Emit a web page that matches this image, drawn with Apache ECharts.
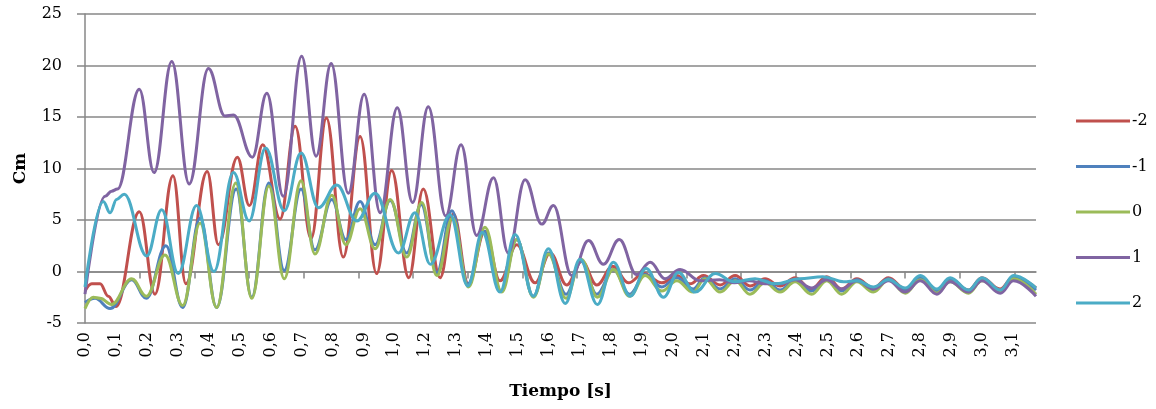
<!DOCTYPE html>
<html>
<head>
<meta charset="utf-8">
<script src="https://cdn.jsdelivr.net/npm/echarts@6/dist/echarts.min.js"></script>
<style>
  html, body { margin: 0; padding: 0; background: #fff; }
  #grafico { width: 1156px; height: 409px; }
</style>
</head>
<body>
<div id="grafico"></div>
<script>
// etiquetas del eje X (la 1,1 no aparece en el original)
var etiquetasX = ['0,0', '0,1', '0,2', '0,3', '0,4', '0,5', '0,6', '0,7', '0,8', '0,9', '1,0',
  '1,2', '1,3', '1,4', '1,5', '1,6', '1,7', '1,8', '1,9', '2,0', '2,1', '2,2', '2,3', '2,4',
  '2,5', '2,6', '2,7', '2,8', '2,9', '3,0', '3,1'];
var pasoEtiqueta = 0.1048; // segundos entre etiquetas
var pasoMarca = 0.18526;   // segundos entre marcas del eje
var tMax = 3.222;

var nombres = ['-2', '-1', '0', '1', '2'];

// [tiempo, Cm]
var serieM2 = [
  [0.000, -1.9], [0.023, -1.2], [0.051, -1.2], [0.079, -2.4], [0.105, -3.4], [0.184, 5.8],
  [0.237, -2.2], [0.298, 9.3], [0.342, -1.2], [0.414, 9.7], [0.452, 2.6], [0.516, 11.1],
  [0.557, 6.4], [0.602, 12.3], [0.661, 5.1], [0.712, 14.1], [0.766, 3.2], [0.818, 14.9],
  [0.875, 1.4], [0.932, 13.1], [0.988, -0.2], [1.039, 9.8], [1.097, -0.6], [1.146, 8.0],
  [1.203, -0.6], [1.248, 5.6], [1.299, -1.2], [1.355, 3.9], [1.406, -0.9], [1.463, 2.6],
  [1.525, -1.1], [1.576, 1.8], [1.632, -1.3], [1.683, 1.0], [1.734, -1.3], [1.788, 0.5],
  [1.841, -1.1], [1.892, -0.2], [1.954, -1.1], [2.005, -0.4], [2.050, -1.2], [2.095, -0.4],
  [2.152, -1.3], [2.203, -0.4], [2.253, -1.4], [2.304, -0.7], [2.355, -1.4], [2.406, -0.6],
  [2.460, -1.7], [2.513, -0.5], [2.564, -1.7], [2.615, -0.7], [2.671, -1.6], [2.722, -0.6],
  [2.779, -1.7], [2.830, -0.5], [2.886, -1.8], [2.931, -0.7], [2.993, -1.8], [3.039, -0.6],
  [3.100, -1.7], [3.146, -0.5], [3.222, -1.6]
];
var serieM1 = [
  [0.000, -3.0], [0.034, -2.6], [0.085, -3.6], [0.158, -0.8], [0.208, -2.6], [0.274, 2.5],
  [0.331, -3.5], [0.390, 5.2], [0.446, -3.5], [0.512, 8.0], [0.565, -2.5], [0.623, 8.6],
  [0.675, 0.1], [0.732, 8.0], [0.779, 2.1], [0.836, 7.0], [0.884, 3.1], [0.932, 6.8],
  [0.983, 2.6], [1.034, 6.9], [1.090, 1.8], [1.139, 6.5], [1.192, -0.1], [1.243, 5.9],
  [1.297, -1.2], [1.353, 3.9], [1.410, -1.9], [1.463, 3.1], [1.519, -2.4], [1.570, 1.8],
  [1.630, -2.2], [1.681, 1.0], [1.734, -2.2], [1.790, 0.2], [1.845, -2.2], [1.898, -0.3],
  [1.954, -1.5], [2.005, -0.6], [2.060, -1.7], [2.100, -0.6], [2.152, -1.7], [2.203, -0.7],
  [2.253, -1.8], [2.304, -0.9], [2.355, -1.8], [2.406, -0.9], [2.462, -1.9], [2.513, -0.7],
  [2.564, -1.9], [2.615, -0.8], [2.671, -1.8], [2.722, -0.7], [2.779, -1.9], [2.830, -0.6],
  [2.886, -1.9], [2.931, -0.8], [2.993, -1.9], [3.039, -0.7], [3.101, -1.9], [3.146, -0.6],
  [3.222, -1.8]
];
var serie0 = [
  [0.000, -3.6], [0.028, -2.5], [0.051, -2.6], [0.090, -3.2], [0.158, -0.7], [0.208, -2.4],
  [0.271, 1.6], [0.331, -3.3], [0.390, 4.7], [0.446, -3.5], [0.511, 8.6], [0.565, -2.6],
  [0.623, 8.3], [0.675, -0.7], [0.732, 8.8], [0.779, 1.7], [0.836, 7.4], [0.884, 2.6],
  [0.932, 6.1], [0.983, 2.2], [1.034, 7.0], [1.090, 1.4], [1.141, 6.7], [1.192, -0.4],
  [1.245, 5.2], [1.299, -1.5], [1.355, 4.3], [1.412, -2.0], [1.463, 3.1], [1.519, -2.5],
  [1.570, 1.7], [1.630, -2.6], [1.681, 1.2], [1.736, -2.5], [1.790, 0.2], [1.845, -2.4],
  [1.898, -0.4], [1.954, -1.9], [2.005, -0.9], [2.060, -2.0], [2.100, -0.7], [2.152, -2.0],
  [2.203, -0.9], [2.253, -2.2], [2.304, -1.1], [2.355, -2.0], [2.406, -1.0], [2.462, -2.2],
  [2.513, -0.9], [2.564, -2.2], [2.615, -1.0], [2.671, -2.0], [2.722, -0.8], [2.779, -2.1],
  [2.830, -0.8], [2.886, -2.1], [2.931, -1.0], [2.993, -2.1], [3.039, -0.9], [3.101, -2.0],
  [3.146, -0.7], [3.222, -2.2]
];
var serieP1 = [
  [0.000, -2.2], [0.068, 7.3], [0.090, 7.8], [0.110, 8.0], [0.184, 17.7], [0.234, 9.6],
  [0.294, 20.4], [0.353, 8.5], [0.418, 19.7], [0.474, 15.1], [0.503, 15.2], [0.567, 11.1],
  [0.616, 17.3], [0.672, 7.3], [0.734, 20.9], [0.783, 11.2], [0.834, 20.2], [0.892, 7.6],
  [0.946, 17.2], [1.000, 5.7], [1.058, 15.9], [1.110, 6.7], [1.163, 16.0], [1.222, 5.4],
  [1.274, 12.3], [1.327, 3.5], [1.384, 9.1], [1.434, 1.8], [1.491, 8.9], [1.548, 4.6],
  [1.587, 6.4], [1.649, -0.4], [1.706, 3.0], [1.756, 0.7], [1.810, 3.1], [1.869, -0.3],
  [1.915, 0.9], [1.965, -0.7], [2.016, 0.2], [2.085, -0.9], [2.150, -0.8], [2.200, -1.1],
  [2.250, -0.9], [2.304, -1.2], [2.355, -1.2], [2.406, -0.8], [2.462, -1.6], [2.513, -0.8],
  [2.564, -1.7], [2.615, -0.9], [2.671, -1.7], [2.722, -0.9], [2.779, -2.0], [2.830, -0.9],
  [2.886, -2.2], [2.931, -1.0], [2.993, -2.0], [3.039, -0.9], [3.101, -2.1], [3.146, -0.9],
  [3.222, -2.4]
];
var serieP2 = [
  [0.000, -1.5], [0.062, 6.8], [0.085, 5.7], [0.107, 7.0], [0.133, 7.5], [0.209, 1.5],
  [0.260, 6.0], [0.316, -0.2], [0.378, 6.4], [0.437, 0.0], [0.503, 9.6], [0.556, 4.9],
  [0.612, 12.0], [0.675, 5.9], [0.732, 11.5], [0.791, 6.2], [0.853, 8.4], [0.921, 4.9],
  [0.983, 7.6], [1.062, 1.8], [1.118, 5.7], [1.170, 0.7], [1.237, 5.5], [1.297, -1.4],
  [1.346, 3.8], [1.406, -2.0], [1.457, 3.6], [1.519, -2.4], [1.570, 2.2], [1.627, -3.1],
  [1.677, 1.2], [1.736, -3.2], [1.790, 0.9], [1.847, -2.4], [1.901, 0.3], [1.960, -2.5],
  [2.010, -0.1], [2.067, -2.0], [2.135, -0.2], [2.200, -1.0], [2.270, -0.7], [2.340, -1.2],
  [2.420, -0.7], [2.500, -0.5], [2.570, -1.0], [2.615, -0.9], [2.671, -1.5], [2.722, -0.8],
  [2.779, -1.6], [2.830, -0.4], [2.886, -1.7], [2.931, -0.6], [2.993, -1.8], [3.039, -0.6],
  [3.101, -1.8], [3.146, -0.4], [3.222, -1.6]
];

var datos = [serieM2, serieM1, serie0, serieP1, serieP2];
var colores = ['#C0504D', '#4F81BD', '#9BBB59', '#8064A2', '#4BACC6'];

var fuente = 'DejaVu Serif';
var gris = '#878787';

var chartDom = document.getElementById('grafico');
var myChart = echarts.init(chartDom);

var posEtiquetas = etiquetasX.map(function (e, i) { return i * pasoEtiqueta; });
var posMarcas = [];
for (var m = 0; m * pasoMarca <= tMax; m++) {
  posMarcas.push(m * pasoMarca);
}

var option = {
  animation: false,
  backgroundColor: '#fff',
  grid: {
    left: 85,
    right: 120,
    top: 14,
    bottom: 86
  },
  legend: {
    data: nombres,
    orient: 'vertical',
    left: 1076,
    top: 111,
    padding: 0,
    icon: 'rect',
    itemWidth: 54,
    itemHeight: 3,
    itemGap: 25.5,
    textStyle: {
      fontFamily: fuente,
      fontSize: 16,
      lineHeight: 20,
      color: '#000',
      padding: [0, 0, 0, -3]
    }
  },
  xAxis: {
    type: 'value',
    min: 0,
    max: tMax,
    name: 'Tiempo [s]',
    nameLocation: 'middle',
    nameGap: 60,
    nameTextStyle: {
      fontFamily: fuente,
      fontSize: 17,
      fontWeight: 'bold',
      color: '#000'
    },
    axisLine: {
      show: true,
      lineStyle: { color: gris, width: 1.5 }
    },
    axisTick: {
      show: true,
      length: 7,
      customValues: posMarcas,
      lineStyle: { color: gris, width: 1.5 }
    },
    axisLabel: {
      customValues: posEtiquetas,
      rotate: 90,
      margin: 9,
      fontFamily: fuente,
      fontSize: 16,
      color: '#000',
      formatter: function (v) {
        return etiquetasX[Math.round(v / pasoEtiqueta)];
      }
    },
    splitLine: { show: false }
  },
  yAxis: {
    type: 'value',
    min: -5,
    max: 25,
    interval: 5,
    name: 'Cm',
    nameLocation: 'middle',
    nameGap: 56,
    nameTextStyle: {
      fontFamily: fuente,
      fontSize: 17,
      fontWeight: 'bold',
      color: '#000'
    },
    axisLine: {
      show: true,
      lineStyle: { color: gris, width: 1.5 }
    },
    axisTick: {
      show: true,
      length: 8,
      lineStyle: { color: gris, width: 1.5 }
    },
    axisLabel: {
      margin: 23,
      fontFamily: fuente,
      fontSize: 16,
      color: '#000'
    },
    splitLine: {
      show: true,
      lineStyle: { color: gris, width: 1.5 }
    }
  },
  series: datos.map(function (d, i) {
    return {
      name: nombres[i],
      type: 'line',
      data: d,
      smooth: 0.4,
      smoothMonotone: 'x',
      symbol: 'none',
      color: colores[i],
      lineStyle: { width: 3, color: colores[i] }
    };
  })
};

myChart.setOption(option);
window.addEventListener('resize', function () {
  myChart.resize();
});
</script>
</body>
</html>
